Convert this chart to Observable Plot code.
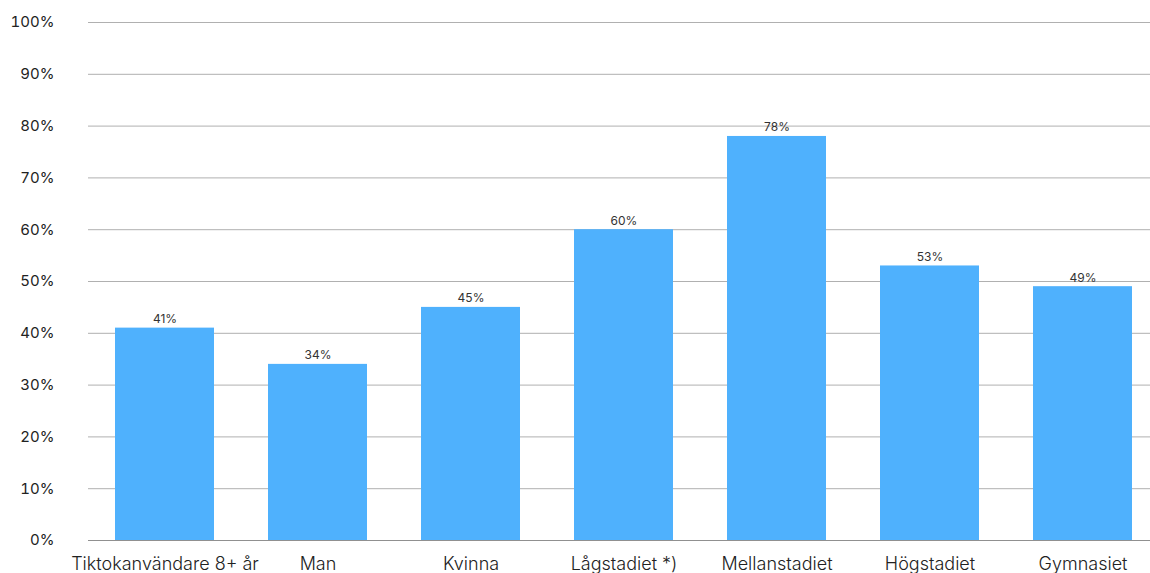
<!DOCTYPE html>
<html><head><meta charset="utf-8">
<script src="https://cdn.jsdelivr.net/npm/d3@7"></script>
<script src="https://cdn.jsdelivr.net/npm/@observablehq/plot@0.6"></script>
<style>
body{margin:0;background:#fff;}
svg{overflow:visible}
</style>
</head><body><div id="chart"></div>
<script>
const categories = ["Tiktokanvändare 8+ år","Man","Kvinna","Lågstadiet *)","Mellanstadiet","Högstadiet","Gymnasiet"];
const values = [0.41,0.34,0.45,0.60,0.78,0.53,0.49];
const yTicks = [0,0.1,0.2,0.3,0.4,0.5,0.6,0.7,0.8,0.9,1.0];
const data = categories.map((c,i)=>({cat:c, v:values[i]}));

const chart = Plot.plot({
  width: 1150, height: 573,
  marginLeft: 88, marginRight: 0, marginTop: 22, marginBottom: 33,
  style: {fontFamily: "Inter, sans-serif", background: "#fff", overflow: "visible"},
  x: {domain: categories, range: [86, 1160], paddingInner: 0.355, paddingOuter: 0.1775, label: null},
  y: {domain: [0,1], label: null},
  marks: [
    Plot.ruleY(yTicks.filter(d=>d>0), {stroke: "#b0b0b0", strokeWidth: 1}),
    Plot.ruleY([0], {stroke: "#909090", strokeWidth: 1}),
    Plot.barY(data, {x: "cat", y: "v", fill: "#4FB1FD"}),
    Plot.text(data, {x: "cat", y: "v", text: d => Math.round(d.v*100) + "%", dy: -9, fontSize: 12, fill: "#333"}),
    Plot.axisY({ticks: yTicks, tickFormat: d => Math.round(d*100) + "%", tickSize: 0, tickPadding: 34, fontSize: 15, label: null, fill: "#222"}),
    Plot.axisX({tickSize: 0, tickPadding: 17, fontSize: 18, fontWeight: 300, label: null, fill: "#222", fontFamily: "Inter"})
  ]
});
document.getElementById("chart").appendChild(chart);
</script>
</body></html>
